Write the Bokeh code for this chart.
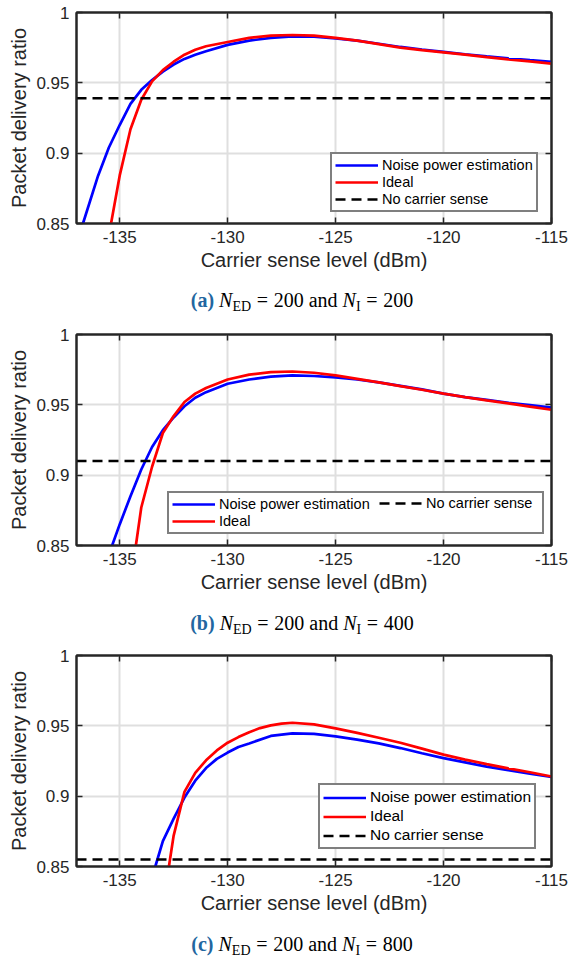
from bokeh.plotting import figure
from bokeh.models import (Range1d, LinearAxis, FixedTicker, Legend, LegendItem, Div,
                          NumeralTickFormatter, CustomJSTickFormatter)
from bokeh.layouts import column
from bokeh.embed import file_html
from bokeh.resources import INLINE

# ---------------- data ----------------
x_ticks = [-135, -130, -125, -120, -115]
x_tick_labels = ["-135", "-130", "-125", "-120", "-115"]
y_ticks = [0.85, 0.9, 0.95, 1.0]
series_names = ["Noise power estimation", "Ideal", "No carrier sense"]
x_label = "Carrier sense level (dBm)"
y_label = "Packet delivery ratio"

# (a) N_ED = 200, N_I = 200
a_est_x = [-136.7, -136, -135.5, -135, -134.5, -134, -133.5, -133, -132.5, -132, -131.5, -131,
           -130, -129, -128, -127, -126, -125, -124, -123, -122, -121, -120, -119, -118, -117, -116, -115]
a_est_y = [0.850, 0.884, 0.904, 0.920, 0.935, 0.945, 0.952, 0.958, 0.963, 0.967, 0.970, 0.9725,
           0.977, 0.980, 0.982, 0.983, 0.9828, 0.9815, 0.980, 0.9778, 0.9755, 0.9737, 0.9720, 0.9703,
           0.9688, 0.9674, 0.9661, 0.9650]
a_ideal_x = [-135.4, -135, -134.5, -134, -133.5, -133, -132.5, -132, -131.5, -131, -130, -129, -128,
             -127, -126, -125, -124, -123, -122, -121, -120, -119, -118, -117, -116, -115]
a_ideal_y = [0.850, 0.884, 0.917, 0.938, 0.951, 0.959, 0.965, 0.970, 0.9735, 0.976, 0.979, 0.982,
             0.9835, 0.984, 0.9835, 0.982, 0.980, 0.9775, 0.975, 0.9732, 0.9717, 0.970, 0.9683,
             0.9667, 0.9652, 0.9637]
a_nocs = 0.939

# (b) N_ED = 200, N_I = 400
b_est_x = [-135.35, -135, -134.5, -134, -133.5, -133, -132.5, -132, -131.5, -131, -130, -129, -128,
           -127, -126, -125, -124, -123, -122, -121, -120, -119, -118, -117, -116, -115]
b_est_y = [0.850, 0.865, 0.885, 0.904, 0.920, 0.932, 0.941, 0.949, 0.955, 0.959, 0.965, 0.968,
           0.970, 0.971, 0.9705, 0.9695, 0.968, 0.966, 0.9635, 0.961, 0.958, 0.9555, 0.9535, 0.9515,
           0.9498, 0.948]
b_ideal_x = [-134.25, -134, -133.5, -133, -132.5, -132, -131.5, -131, -130, -129, -128, -127, -126,
             -125, -124, -123, -122, -121, -120, -119, -118, -117, -116, -115]
b_ideal_y = [0.850, 0.877, 0.906, 0.930, 0.942, 0.952, 0.958, 0.962, 0.968, 0.9715, 0.9733, 0.9737,
             0.9728, 0.971, 0.9685, 0.966, 0.9633, 0.9607, 0.958, 0.9555, 0.9532, 0.951, 0.9487,
             0.9465]
b_nocs = 0.910

# (c) N_ED = 200, N_I = 800
c_est_x = [-133.35, -133, -132.5, -132, -131.5, -131, -130.5, -130, -129.5, -129, -128, -127, -126,
           -125, -124, -123, -122, -121, -120, -119, -118, -117, -116, -115]
c_est_y = [0.850, 0.868, 0.884, 0.899, 0.911, 0.920, 0.9265, 0.931, 0.935, 0.9375, 0.9428, 0.9447,
           0.9443, 0.9425, 0.9402, 0.9375, 0.9342, 0.9305, 0.927, 0.924, 0.921, 0.9185, 0.916, 0.9136]
c_ideal_x = [-132.72, -132.5, -132, -131.5, -131, -130.5, -130, -129.5, -129, -128.5, -128, -127.5,
             -127, -126, -125, -124, -123, -122, -121, -120, -119, -118, -117, -116, -115]
c_ideal_y = [0.850, 0.872, 0.903, 0.9165, 0.9255, 0.9325, 0.938, 0.942, 0.9455, 0.9484, 0.9503,
             0.9516, 0.9522, 0.951, 0.9482, 0.9450, 0.9415, 0.938, 0.9338, 0.9295, 0.926, 0.9228,
             0.9198, 0.917, 0.914]
c_nocs = 0.855

AX = "#262626"
FONT = "Liberation Sans"


def style_legend(leg, font_size, row):
    leg.label_text_font = FONT
    leg.label_text_font_size = font_size
    leg.label_text_color = "black"
    leg.border_line_color = "black"
    leg.border_line_width = 2
    leg.background_fill_color = "white"
    leg.background_fill_alpha = 1
    leg.padding = 3
    leg.spacing = 1
    leg.margin = 0
    leg.glyph_width = 43
    leg.glyph_height = row
    leg.label_height = row
    leg.label_standoff = 4


def make_panel(ex, ey, ix, iy, nocs, leg_loc, leg_font, two_cols=False, leg_row=16):
    p = figure(width=569, height=278, output_backend="svg", toolbar_location=None,
               x_range=Range1d(-137, -115), y_range=Range1d(0.85, 1.0),
               min_border_left=76, min_border_right=18, min_border_top=12, min_border_bottom=55,
               x_axis_label=x_label, y_axis_label=y_label)
    p.background_fill_color = "white"
    p.border_fill_color = "white"
    p.outline_line_color = AX
    p.outline_line_width = 2

    p.xaxis.ticker = FixedTicker(ticks=x_ticks)
    p.xaxis.major_label_overrides = dict(zip(x_ticks, x_tick_labels))
    p.yaxis.ticker = FixedTicker(ticks=y_ticks)
    p.yaxis.formatter = NumeralTickFormatter(format="0.[00]")
    for ax in (p.xaxis[0], p.yaxis[0]):
        ax.axis_line_color = AX
        ax.axis_line_width = 2
        ax.major_tick_in = 6
        ax.major_tick_out = 0
        ax.major_tick_line_color = AX
        ax.major_tick_line_width = 1.5
        ax.minor_tick_line_color = None
        ax.major_label_text_font = FONT
        ax.major_label_text_font_size = "17px"
        ax.major_label_text_color = AX
        ax.axis_label_text_font = FONT
        ax.axis_label_text_font_size = "20px"
        ax.axis_label_text_font_style = "normal"
        ax.axis_label_text_color = AX
    p.xaxis.major_label_standoff = 7
    p.xaxis.axis_label_standoff = 3
    p.yaxis.major_label_standoff = 7
    p.yaxis.axis_label_standoff = 3

    for loc, tk in (("right", y_ticks), ("above", x_ticks)):
        ax = LinearAxis(ticker=FixedTicker(ticks=tk),
                        formatter=CustomJSTickFormatter(code="return ''"))
        ax.axis_line_color = AX
        ax.axis_line_width = 2
        ax.major_tick_in = 6
        ax.major_tick_out = 0
        ax.major_tick_line_color = AX
        ax.major_tick_line_width = 1.5
        ax.minor_tick_line_color = None
        ax.major_label_standoff = 0
        p.add_layout(ax, loc)

    p.xgrid.grid_line_color = "#dfdfdf"
    p.ygrid.grid_line_color = "#dfdfdf"
    p.xgrid.grid_line_width = 2
    p.ygrid.grid_line_width = 2

    r1 = p.line(ex, ey, line_color="#0000ff", line_width=2.7)
    r2 = p.line(ix, iy, line_color="#ff0000", line_width=2.7)
    r3 = p.line([-137, -115], [nocs, nocs], line_color="black", line_width=2.5, line_dash="10 6")

    i1 = LegendItem(label=series_names[0], renderers=[r1])
    i2 = LegendItem(label=series_names[1], renderers=[r2])
    i3 = LegendItem(label=series_names[2], renderers=[r3])
    if two_cols:
        leg = Legend(items=[i1, i2], location=leg_loc)
        style_legend(leg, leg_font, leg_row)
        leg.label_width = 320
        p.add_layout(leg)
        leg2 = Legend(items=[i3], location=(leg_loc[0] + 212, leg_loc[1] + 23))
        style_legend(leg2, leg_font, leg_row)
        leg2.border_line_color = None
        leg2.background_fill_alpha = 0
        p.add_layout(leg2)
    else:
        leg = Legend(items=[i1, i2, i3], location=leg_loc)
        style_legend(leg, leg_font, leg_row)
        p.add_layout(leg)
    return p


def caption(letter, ni, h, pt):
    sub = 'style="font-size:14px;vertical-align:-4px;line-height:0"'
    eq = '&#8202;&#8201;=&#8201;&#8202;'
    html = (f'<div style="width:569px;height:{h}px;box-sizing:border-box;padding-top:{pt}px;'
            'padding-left:35px;text-align:center;font-family:\'Liberation Serif\',serif;'
            'font-size:20px;line-height:22px;color:#000;white-space:nowrap;">'
            f'<b style="color:#2266a0">({letter})</b> <i>N</i><sub {sub}>ED</sub>{eq}200 and '
            f'<i>N</i><sub {sub}>I</sub>{eq}{ni}</div>')
    return Div(text=html, width=569, height=h, margin=0)


pa = make_panel(a_est_x, a_est_y, a_ideal_x, a_ideal_y, a_nocs, (254, 11), "14.5px")
pb = make_panel(b_est_x, b_est_y, b_ideal_x, b_ideal_y, b_nocs, (91, 11), "14.5px", two_cols=True)
pc = make_panel(c_est_x, c_est_y, c_ideal_x, c_ideal_y, c_nocs, (242, 17), "15.5px", leg_row=17)

layout = column(pa, caption("a", 200, 44, 11), pb, caption("b", 400, 43, 12),
                pc, caption("c", 800, 38, 12), spacing=0)

open("out.html", "w").write(file_html(layout, INLINE))
